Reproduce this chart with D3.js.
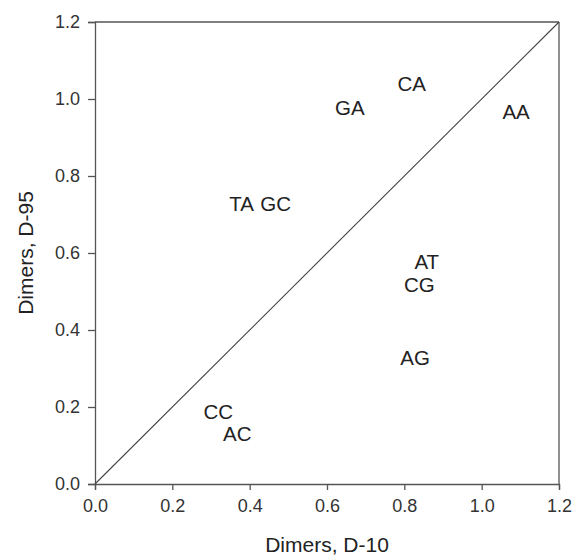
<!DOCTYPE html>
<html><head><meta charset="utf-8">
<script src="https://cdn.jsdelivr.net/npm/d3@7"></script>
<style>
body{margin:0;background:#fff;}
text{font-family:"Liberation Sans",Arial,sans-serif;}
</style></head>
<body><svg id="c" width="573" height="558"></svg>
<script>
const labels = ["CA","GA","AA","TA","GC","AT","CG","AG","CC","AC"];
const d10 = [0.819,0.659,1.089,0.379,0.467,0.858,0.839,0.828,0.319,0.368];
const d95 = [1.041,0.977,0.967,0.729,0.729,0.579,0.519,0.328,0.188,0.132];
const tickVals = [0,0.2,0.4,0.6,0.8,1.0,1.2];
const xTitle = "Dimers, D-10";
const yTitle = "Dimers, D-95";

const svg = d3.select("#c");
const m = {l:95, t:22, r:14, b:74};
const W = 573 - m.l - m.r, H = 558 - m.t - m.b;
const x = d3.scaleLinear().domain([0,1.2]).range([0,W]);
const y = d3.scaleLinear().domain([0,1.2]).range([H,0]);
const g = svg.append("g").attr("transform",`translate(${m.l},${m.t})`);
const axCol = "#555";

const xa = g.append("g").attr("transform",`translate(0,${H})`)
  .call(d3.axisBottom(x).tickValues(tickVals).tickFormat(d3.format(".1f")).tickSize(6).tickPadding(9));
const ya = g.append("g")
  .call(d3.axisLeft(y).tickValues(tickVals).tickFormat(d3.format(".1f")).tickSize(7).tickPadding(8));
[xa,ya].forEach(a=>{
  a.selectAll("path").attr("stroke",axCol).attr("stroke-width",1.3);
  a.selectAll("line").attr("stroke",axCol).attr("stroke-width",1.3);
  a.selectAll("text").attr("fill","#333").style("font-size","18px").style("font-family","'Liberation Sans',Arial,sans-serif");
});
// top & right frame
g.append("line").attr("x1",0).attr("x2",W).attr("y1",0).attr("y2",0).attr("stroke",axCol).attr("stroke-width",1.3);
g.append("line").attr("x1",W).attr("x2",W).attr("y1",0).attr("y2",H).attr("stroke",axCol).attr("stroke-width",1.3);
// diagonal
g.append("line").attr("x1",x(0)).attr("y1",y(0)).attr("x2",x(1.2)).attr("y2",y(1.2))
  .attr("stroke","#444").attr("stroke-width",1.1);

g.selectAll("text.lbl").data(labels).enter().append("text").attr("class","lbl")
  .attr("x",(d,i)=>x(d10[i])).attr("y",(d,i)=>y(d95[i]))
  .attr("text-anchor","middle").attr("dominant-baseline","central")
  .attr("fill","#222").style("font-size","20.5px").text(d=>d);

svg.append("text").attr("x",m.l+W/2).attr("y",552).attr("text-anchor","middle")
  .attr("fill","#222").style("font-size","21px").text(xTitle);
svg.append("text").attr("transform",`translate(33,${m.t+H/2}) rotate(-90)`).attr("text-anchor","middle")
  .attr("fill","#222").style("font-size","21px").text(yTitle);
</script></body></html>
